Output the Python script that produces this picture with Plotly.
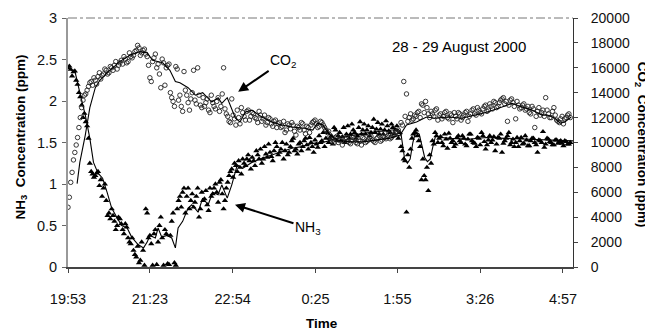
import plotly.graph_objects as go

# ---------------- data (minutes after 19:53) ----------------
NH3_POINTS = [
    2.40, 2.38, 2.35, 2.25, 2.10, 1.95, 1.85, 1.70, 1.25, 1.12,
    1.10, 1.15, 1.05, 0.95, 0.80, 0.65, 0.70, 0.55, 0.50, 0.58,
    0.45, 0.52, 0.35, 0.28, 0.20, 0.12, 0.05, 0.30, 0.02, 0.65,
    0.38, 0.02, 0.45, 0.30, 0.60, 0.02, 0.40, 0.03, 0.55, 0.05,
    0.70, 0.85, 0.90, 0.65, 0.95, 0.80, 0.72, 0.85, 0.60, 0.90,
    0.82, 0.75, 0.95, 0.88, 1.00, 0.78, 1.05, 0.70, 0.95, 1.10,
    1.18, 1.25, 1.15, 1.20, 1.30, 1.22, 1.35, 1.18, 1.28, 1.40,
    1.30, 1.25, 1.45, 1.32, 1.38, 1.28, 1.50, 1.35, 1.42, 1.30,
    1.48, 1.38, 1.52, 1.40, 1.36, 1.50, 1.45, 1.55, 1.42, 1.50,
    1.38, 1.48, 1.58, 1.52, 1.45, 1.62, 1.55, 1.48, 1.65, 1.58,
    1.52, 1.68, 1.60, 1.55, 1.72, 1.62, 1.58, 1.75, 1.65, 1.60,
    1.70, 1.62, 1.78, 1.66, 1.60, 1.72, 1.65, 1.70, 1.62, 1.68,
    1.65, 1.55, 1.45, 1.30, 0.66, 1.20, 1.55, 1.62, 1.58, 1.45,
    1.30, 1.05, 0.92, 1.25, 1.48, 1.58, 1.55, 1.50, 1.60, 1.43,
    1.55, 1.52, 1.48, 1.58, 1.50, 1.55, 1.46, 1.60, 1.52, 1.49,
    1.56, 1.47, 1.58, 1.42, 1.53, 1.50, 1.57, 1.48, 1.55, 1.38,
    1.52, 1.58, 1.47, 1.54, 1.50, 1.45, 1.56, 1.49, 1.53, 1.46,
    1.55, 1.50, 1.38, 1.52, 1.63, 1.48, 1.54, 1.50, 1.47, 1.53,
    1.51, 1.49, 1.52, 1.48, 1.50,
]
NH3_POINTS_B = [
    2.42, 2.30, 2.36, 2.20, 2.05, 1.80, 1.75, 1.55, 1.15, 1.08,
    1.13, 0.98, 0.85, 1.00, 0.62, 0.58, 0.62, 0.45, 0.60, 0.52,
    0.40, 0.48, 0.30, 0.35, 0.15, 0.25, 0.08, 0.20, 0.70, 0.35,
    0.28, 0.40, 0.03, 0.50, 0.35, 0.45, 0.04, 0.38, 0.65, 0.02,
    0.80, 0.72, 0.95, 0.85, 0.70, 0.88, 0.78, 0.95, 0.70, 0.80,
    0.92, 0.68, 0.85, 0.95, 0.90, 1.02, 0.88, 0.80, 1.02, 1.15,
    1.08, 1.22, 1.28, 1.12, 1.25, 1.30, 1.28, 1.32, 1.22, 1.35,
    1.42, 1.30, 1.36, 1.48, 1.33, 1.40, 1.45, 1.38, 1.50, 1.40,
    1.35, 1.45, 1.55, 1.42, 1.48, 1.40, 1.52, 1.47, 1.56, 1.45,
    1.53, 1.44, 1.50, 1.62, 1.55, 1.50, 1.58, 1.68, 1.52, 1.62,
    1.57, 1.50, 1.70, 1.60, 1.65, 1.55, 1.68, 1.60, 1.72, 1.65,
    1.58, 1.68, 1.62, 1.74, 1.66, 1.60, 1.76, 1.64, 1.72, 1.60,
    1.70, 1.62, 1.40, 1.28, 1.35, 1.42, 1.60, 1.65, 1.52, 1.05,
    1.10, 1.20, 1.35, 1.52, 1.62, 1.50, 1.57, 1.46, 1.54, 1.61,
    1.50, 1.45, 1.56, 1.52, 1.58, 1.48, 1.54, 1.60, 1.50, 1.45,
    1.55, 1.62, 1.51, 1.47, 1.58, 1.53, 1.40, 1.56, 1.60, 1.49,
    1.55, 1.62, 1.50, 1.45, 1.56, 1.52, 1.48, 1.58, 1.46, 1.52,
    1.55, 1.47, 1.53, 1.50, 1.44, 1.55, 1.51, 1.47, 1.53, 1.49,
    1.52, 1.46, 1.51, 1.48,
]

CO2_POINTS = [
    4800, 6800, 8600, 9800, 11200, 12800, 13800, 14200, 14800, 14600,
    15000, 15300, 15100, 15500, 15800, 15600, 16000, 16200, 15900, 16400,
    16300, 16700, 16500, 16900, 17000, 17400, 17600, 17200, 17500, 16900,
    15200, 16500, 17100, 16300, 14400, 16400, 16000, 16300, 13600, 12900,
    15900, 13800, 12500, 14200, 13200, 13500, 15800, 13100, 13800, 12800,
    12900, 13500, 12400, 13200, 12700, 13600, 12900, 16000, 12300, 11700,
    13500, 11900, 12600, 11500, 12400, 11800, 12600, 12100, 12300, 11900,
    12500, 11700, 12200, 11600, 11900, 11300, 11800, 11500, 11200, 11700,
    11000, 11400, 11600, 10900, 11300, 11000, 11500, 10700, 11200, 11400,
    11700, 11500, 11300, 11600, 11200, 10800, 10500, 10200, 10400, 10000,
    10300, 10100, 10400, 10000, 10200, 10300, 9900, 10100, 10400, 10000,
    10200, 10500, 10100, 10300, 10600, 10200, 10400, 10500, 10300, 10600,
    10800, 11000, 11600, 14900, 13900, 12000, 11800, 12200, 12400, 12000,
    13000, 13300, 12300, 12500, 12100, 12700, 12200, 11900, 12400, 12000,
    12300, 11600, 12100, 12400, 11800, 12200, 12500, 12100, 12600, 12300,
    12800, 12400, 12700, 13000, 12600, 12900, 13300, 12800, 13200, 13500,
    13100, 11700, 13400, 13200, 11900, 13000, 12800, 13100, 12700, 12400,
    12900, 11200, 12500, 12200, 12600, 13600, 12300, 12000, 12800, 11800,
    11600, 12100, 11900, 12200, 12000,
]
CO2_POINTS_B = [
    5600, 7600, 9200, 10400, 12000, 13400, 13900, 14500, 14900, 15200,
    14700, 15600, 15400, 15900, 15500, 16100, 15800, 16500, 16200, 16600,
    16900, 16400, 17200, 16800, 17300, 17800, 17000, 17400, 17100, 16200,
    14900, 16800, 16000, 15500, 16700, 14600, 16200, 14000, 13300, 16100,
    13400, 12900, 15700, 13800, 12600, 14000, 13400, 16000, 13000, 13600,
    13200, 12600, 13800, 12900, 13300, 12500, 13900, 12700, 12100, 11600,
    12200, 11400, 12000, 12800, 12100, 12500, 11800, 12400, 12000, 11600,
    12200, 11900, 11400, 12000, 11500, 11700, 11200, 11600, 11300, 10800,
    11500, 11100, 11400, 10600, 11200, 11600, 11000, 11300, 10800, 11600,
    11800, 11200, 11700, 11400, 11000, 10900, 10300, 10000, 10500, 10200,
    9800, 10300, 10100, 9900, 10400, 10000, 10200, 9800, 10300, 10100,
    10400, 10200, 10000, 10400, 10100, 10500, 10300, 10700, 10400, 10600,
    10900, 10700, 11400, 12100, 11700, 12300, 11900, 12100, 12500, 13100,
    12400, 12800, 12000, 12300, 12600, 11800, 12300, 12100, 12500, 11900,
    12200, 12400, 11900, 12300, 12000, 12400, 11700, 12300, 12700, 12200,
    12600, 12300, 12900, 12500, 13100, 12700, 13200, 12900, 13400, 13600,
    13300, 13000, 13500, 12900, 13300, 12700, 13000, 12600, 12900, 12300,
    12700, 12100, 12800, 12400, 12100, 12600, 12000, 12500, 12200, 11700,
    11900, 11500, 12000, 12300,
]

NH3_LINE_T = [0, 8, 13, 19, 24, 28, 33, 38, 43, 48, 54, 59, 65, 70, 77, 83,
              87, 90, 96, 99, 103, 109, 114, 118, 121, 126, 132, 136, 143,
              148, 154, 159, 165, 169, 175, 180, 186, 192, 202, 213, 224,
              235, 246, 257, 269, 280, 296, 310, 324, 339, 354, 363, 366,
              368, 370, 373, 376, 379, 382, 386, 389, 392, 395, 398, 401,
              404, 410, 420, 440, 460, 480, 500, 520, 540, 555]
NH3_LINE_V = [2.40, 2.34, 2.10, 1.83, 1.55, 1.26, 1.13, 1.07, 0.90, 0.71,
              0.59, 0.50, 0.47, 0.36, 0.27, 0.23, 0.30, 0.38, 0.35, 0.47,
              0.36, 0.38, 0.35, 0.23, 0.47, 0.55, 0.71, 0.75, 0.66, 0.83,
              0.75, 0.90, 0.87, 0.99, 0.83, 0.99, 1.23, 1.19, 1.26, 1.31,
              1.35, 1.39, 1.43, 1.45, 1.49, 1.50, 1.55, 1.58, 1.61, 1.63,
              1.65, 1.66, 1.60, 1.45, 1.30, 1.25, 1.30, 1.50, 1.63, 1.60,
              1.45, 1.32, 1.27, 1.30, 1.45, 1.58, 1.56, 1.55, 1.54, 1.56,
              1.55, 1.54, 1.53, 1.52, 1.52]

CO2_LINE_T = [10, 13, 19, 24, 30, 35, 46, 57, 68, 79, 87, 93, 104, 112, 118,
              123, 132, 140, 148, 158, 165, 169, 175, 180, 184, 189, 195,
              202, 213, 224, 235, 246, 260, 269, 274, 280, 288, 296, 310,
              324, 339, 354, 365, 372, 383, 394, 403, 418, 433, 447, 461,
              477, 488, 499, 510, 521, 527, 535, 541, 546, 553]
CO2_LINE_V = [6700, 8400, 10600, 12800, 14400, 15000, 15800, 16500, 17000,
              17300, 17200, 16600, 16400, 15800, 14900, 14800, 14400, 13800,
              14000, 13250, 13600, 13150, 13600, 12750, 11950, 11650, 12450,
              12600, 12050, 11650, 11400, 11250, 11150, 11000, 11550, 11400,
              10600, 10200, 10050, 10050, 10200, 10350, 10600, 11400, 11650,
              12050, 11950, 12050, 11950, 12200, 12450, 12850, 13150, 12850,
              12600, 12200, 12200, 11950, 11550, 11650, 12050]

X_TICK_VALS = [0, 90, 181, 272, 362, 453, 544]
X_TICK_TEXT = ["19:53", "21:23", "22:54", "0:25", "1:55", "3:26", "4:57"]

# sampling times: every 3 minutes, second set offset by 1.5 minutes
TIME_A = [3 * i for i in range(len(NH3_POINTS))]
TIME_B = [1.5 + 3 * i for i in range(len(NH3_POINTS_B))]
TIME_CA = [3 * i for i in range(len(CO2_POINTS))]
TIME_CB = [1.5 + 3 * i for i in range(len(CO2_POINTS_B))]

FONT = "Liberation Sans, Arial, sans-serif"
BOLD = dict(size=13.5, family=FONT, weight="bold", color="#000")

fig = go.Figure()
fig.add_trace(go.Scatter(x=TIME_CA + TIME_CB, y=CO2_POINTS + CO2_POINTS_B,
                         mode="markers", yaxis="y2",
                         marker=dict(symbol="circle-open", size=4.5, color="#222",
                                     line=dict(width=0.9)), showlegend=False))
fig.add_trace(go.Scatter(x=TIME_A + TIME_B, y=NH3_POINTS + NH3_POINTS_B,
                         mode="markers",
                         marker=dict(symbol="triangle-up", size=5.5, color="#000"),
                         showlegend=False))
fig.add_trace(go.Scatter(x=CO2_LINE_T, y=CO2_LINE_V, mode="lines", yaxis="y2",
                         line=dict(color="#000", width=1.1), showlegend=False))
fig.add_trace(go.Scatter(x=NH3_LINE_T, y=NH3_LINE_V, mode="lines",
                         line=dict(color="#000", width=1.1), showlegend=False))

# the page draws the figure 8 px in from the top-left corner, so the
# figure is sized to fit the window and the plot area sits at x 68-573, y 18-267
fig.update_layout(
    width=645, height=324,
    margin=dict(l=60, r=80, t=10, b=65),
    paper_bgcolor="white", plot_bgcolor="white",
    font=dict(family=FONT, size=14.5, color="#111"),
    xaxis=dict(range=[0, 555], tickvals=X_TICK_VALS, ticktext=X_TICK_TEXT,
               automargin=False,
               showgrid=False, zeroline=False, showline=True, linecolor="#444",
               linewidth=1.5, ticks="outside", ticklen=4, tickcolor="#444",
               ticklabelstandoff=14),
    yaxis=dict(range=[0, 3], dtick=0.5, showgrid=False, zeroline=False,
               automargin=False,
               showline=True, linecolor="#999", linewidth=2, ticks="outside",
               ticklen=4, tickcolor="#666", ticklabelstandoff=2),
    yaxis2=dict(range=[0, 20000], dtick=2000, tickformat="d", overlaying="y",
                side="right", automargin=False, tickfont=dict(size=14),
                showgrid=False, zeroline=False, showline=True, linecolor="#333",
                linewidth=1, ticks="outside", ticklen=4, tickcolor="#444",
                ticklabelstandoff=10),
    shapes=[dict(type="line", xref="paper", yref="paper", x0=0, x1=1, y0=1, y1=1,
                 line=dict(color="#777", width=1, dash="dashdot"))],
    annotations=[
        dict(text="28 - 29 August 2000", xref="paper", yref="paper", x=0.774,
             y=0.884, xanchor="center", yanchor="middle", showarrow=False,
             font=dict(size=15, color="#000")),
        dict(text="NH<sub>3</sub>  Concentration (ppm)", xref="paper", yref="paper",
             x=-0.093, y=0.52, xanchor="center", yanchor="middle",
             textangle=-90, showarrow=False, font=BOLD),
        dict(text="CO<sub>2</sub>  Concentration (ppm)", xref="paper", yref="paper",
             x=1.135, y=0.49, xanchor="center", yanchor="middle",
             textangle=90, showarrow=False, font=BOLD),
        dict(text="Time", xref="paper", yref="paper", x=0.503, y=-0.225,
             xanchor="center", yanchor="middle", showarrow=False, font=BOLD),
        dict(text="CO<sub>2</sub>", x=187, y=2.11, xref="x", yref="y", ax=45, ay=-31,
             showarrow=True, arrowhead=2, arrowsize=1, arrowwidth=2,
             arrowcolor="#000", font=dict(size=14, color="#000")),
        dict(text="NH<sub>3</sub>", x=183.5, y=0.75, xref="x", yref="y", ax=73, ay=23,
             showarrow=True, arrowhead=2, arrowsize=1, arrowwidth=2,
             arrowcolor="#000", font=dict(size=14, color="#000")),
    ],
)

fig.write_html("out.html")
